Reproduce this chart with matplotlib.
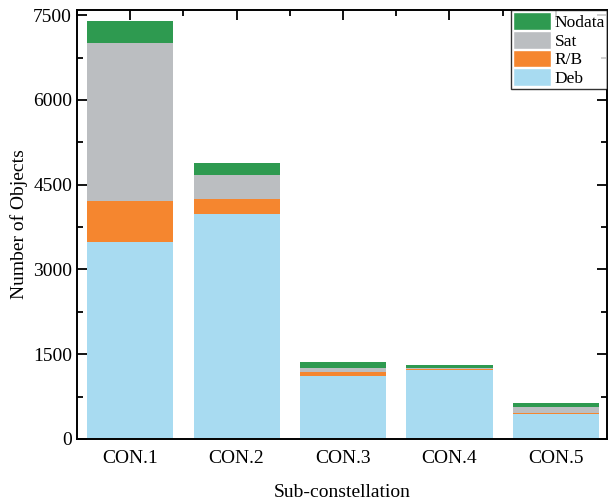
import matplotlib
import numpy as np

matplotlib.use("Agg")
import matplotlib.pyplot as plt
from matplotlib.ticker import MultipleLocator

groups = ["CON.1", "CON.2", "CON.3", "CON.4", "CON.5"]
deb = [3490, 3990, 1110, 1220, 450]
rb = [720, 260, 75, 25, 15]
sat = [2790, 430, 80, 15, 105]
nodata = [390, 210, 95, 55, 65]

colors = {
    "Deb": "#a8dbf1",
    "R/B": "#f5862f",
    "Sat": "#bbbec1",
    "Nodata": "#2e9a50",
}

plt.rcParams["font.family"] = ["Liberation Serif", "DejaVu Serif"]
plt.rcParams["font.size"] = 14

fig = plt.figure(figsize=(6.08, 5.04), dpi=100)
ax = fig.add_axes([0.1266, 0.129, 0.8717, 0.851])

x = np.arange(1, len(groups) + 1)
width = 0.81
bottom = np.zeros(len(groups))
handles = []
for name, values in [("Deb", deb), ("R/B", rb), ("Sat", sat), ("Nodata", nodata)]:
    bars = ax.bar(x, values, width, bottom=bottom, color=colors[name],
                  edgecolor="none", label=name, zorder=2)
    handles.append(bars)
    bottom += np.asarray(values, dtype=float)

ax.set_xlim(0.5, 5.48)
ax.set_ylim(0, 7590)
ax.set_xticks(x)
ax.set_xticklabels(groups)
ax.xaxis.set_minor_locator(MultipleLocator(0.5))
ax.yaxis.set_major_locator(MultipleLocator(1500))
ax.yaxis.set_minor_locator(MultipleLocator(750))

ax.tick_params(axis="y", which="both", direction="in", left=True, right=True, width=1.3)
ax.tick_params(axis="y", which="major", length=7)
ax.tick_params(axis="y", which="minor", length=4)
ax.tick_params(axis="x", which="both", direction="in", bottom=False, top=True, width=1.3)
ax.tick_params(axis="x", which="major", length=7, pad=8)
ax.tick_params(axis="x", which="minor", length=4)
for spine in ax.spines.values():
    spine.set_linewidth(1.4)

ax.set_xlabel("Sub-constellation", labelpad=12)
ax.set_ylabel("Number of Objects", labelpad=4)

leg = ax.legend(handles[::-1], ["Nodata", "Sat", "R/B", "Deb"], loc="upper right",
                fontsize=12.5, frameon=True, fancybox=False, edgecolor="black",
                handlelength=2.2, handleheight=1.2, labelspacing=0.0,
                handletextpad=0.2, borderpad=0.12, borderaxespad=0.0)
leg.get_frame().set_linewidth(1.0)
for patch in leg.get_patches():
    patch.set_edgecolor("white")
    patch.set_linewidth(1.0)

fig.savefig("out.png", dpi=100)
